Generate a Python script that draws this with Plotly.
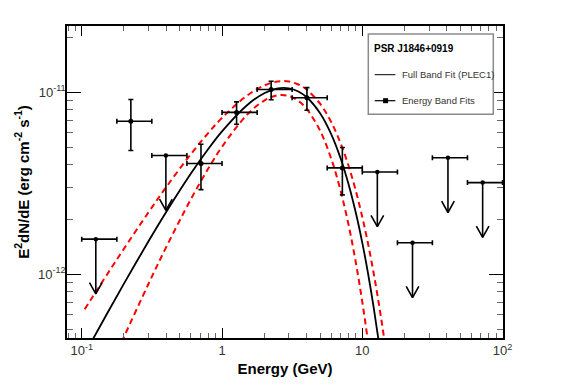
import plotly.graph_objects as go

# ---------------- data ----------------
det_energy = [0.224, 0.708, 1.27, 2.24, 4.03, 7.21]
det_e_lo = [0.178, 0.562, 1.0, 1.78, 3.16, 5.62]
det_e_hi = [0.316, 1.0, 1.78, 3.16, 5.62, 10.0]
det_flux = [6.93e-12, 4.06e-12, 7.75e-12, 1.035e-11, 9.33e-12, 3.84e-12]
det_flux_hi = [9.12e-12, 5.18e-12, 8.85e-12, 1.15e-11, 1.06e-11, 4.97e-12]
det_flux_lo = [4.79e-12, 2.92e-12, 6.67e-12, 9.1e-12, 7.96e-12, 2.73e-12]

ul_energy = [0.126, 0.398, 12.8, 22.8, 40.8, 72.1]
ul_e_lo = [0.1, 0.316, 10.0, 17.8, 31.6, 56.2]
ul_e_hi = [0.178, 0.562, 17.8, 31.6, 56.2, 100.0]
ul_flux = [1.56e-12, 4.49e-12, 3.65e-12, 1.49e-12, 4.37e-12, 3.19e-12]

fit_energy = [0.1, 0.12, 0.15, 0.2, 0.3, 0.4, 0.6, 0.8, 1.0, 1.5, 2.0, 2.5, 3.0,
              3.5, 4.0, 5.0, 6.0, 7.0, 8.0, 9.0, 10.0, 11.0, 12.0, 13.0, 14.0]
fit_flux = [3.40e-13, 4.394e-13, 5.99e-13, 8.88e-13, 1.523e-12, 2.199e-12, 3.578e-12,
            4.896e-12, 6.10e-12, 8.463e-12, 9.88e-12, 1.050e-11, 1.051e-11, 1.010e-11,
            9.417e-12, 7.674e-12, 5.893e-12, 4.342e-12, 3.105e-12, 2.169e-12, 1.489e-12,
            1.007e-12, 6.725e-13, 4.446e-13, 2.915e-13]

up_energy = [0.105, 0.12, 0.15, 0.2, 0.3, 0.4, 0.6, 0.8, 1.0, 1.5, 2.0, 2.5, 3.0,
             3.5, 4.0, 5.0, 6.0, 7.0, 8.0, 9.0, 10.0, 11.0, 12.0, 13.0, 14.0, 15.0]
up_flux = [6.425e-13, 7.548e-13, 9.854e-13, 1.382e-12, 2.197e-12, 3.012e-12, 4.574e-12,
           5.989e-12, 7.229e-12, 9.559e-12, 1.090e-11, 1.146e-11, 1.145e-11, 1.103e-11,
           1.036e-11, 8.652e-12, 6.864e-12, 5.254e-12, 3.921e-12, 2.866e-12, 2.064e-12,
           1.468e-12, 1.033e-12, 7.204e-13, 4.986e-13, 3.431e-13]

low_energy = [0.18, 0.2, 0.3, 0.4, 0.6, 0.8, 1.0, 1.5, 2.0, 2.5, 3.0, 3.5, 4.0,
              5.0, 6.0, 7.0, 8.0, 9.0, 10.0, 11.0, 12.0]
low_flux = [3.784e-13, 4.529e-13, 8.903e-13, 1.410e-12, 2.586e-12, 3.821e-12, 5.016e-12,
            7.489e-12, 9.000e-12, 9.614e-12, 9.528e-12, 8.967e-12, 8.124e-12, 6.152e-12,
            4.323e-12, 2.884e-12, 1.852e-12, 1.156e-12, 7.05e-13, 4.222e-13, 2.490e-13]

x_tickvals = [0.1, 1, 10, 100]
x_ticktext = ["10<sup>-1</sup>", "1", "10", "10<sup>2</sup>"]
x_minor = [0.08, 0.09, 0.2, 0.3, 0.4, 0.5, 0.6, 0.7, 0.8, 0.9, 2, 3, 4, 5, 6, 7, 8, 9,
           20, 30, 40, 50, 60, 70, 80, 90]
y_tickvals = [1e-12, 1e-11]
y_ticktext = ["10<sup>-12</sup>", "10<sup>-11</sup>"]
y_minor = [5e-13, 6e-13, 7e-13, 8e-13, 9e-13, 2e-12, 3e-12, 4e-12, 5e-12, 6e-12,
           7e-12, 8e-12, 9e-12, 2e-11]

# ---------------- style ----------------
FONT = "Liberation Sans, Arial, Helvetica, sans-serif"
ARROW_FACTOR = 0.5          # arrow length (factor in flux)
HEAD_DX = 10 ** 0.045       # arrow head half-width (log factor)
HEAD_DY = 10 ** 0.062       # arrow head height (log factor)

W, H = 567, 384
BODY = 8                    # default page margin of the html body
PL, PT, PW, PH = 67, 26, 436, 312   # plot area on screen
ML, MT = PL - BODY, PT - BODY
MR, MB = W - ML - PW, H - MT - PH


def px(x):
    return (x - PL) / PW


def py(y):
    return (PT + PH - y) / PH


fig = go.Figure()

# model curves
fig.add_trace(go.Scatter(x=low_energy, y=low_flux, mode="lines", line_shape="spline",
                         line=dict(color="#ff0000", width=2, dash="6px,4px"),
                         showlegend=False, hoverinfo="skip"))
fig.add_trace(go.Scatter(x=up_energy, y=up_flux, mode="lines", line_shape="spline",
                         line=dict(color="#ff0000", width=2, dash="6px,4px"),
                         showlegend=False, hoverinfo="skip"))
fig.add_trace(go.Scatter(x=fit_energy, y=fit_flux, mode="lines", line_shape="spline",
                         line=dict(color="black", width=1.8),
                         showlegend=False))

# detected band points
fig.add_trace(go.Scatter(
    x=det_energy, y=det_flux, mode="markers",
    marker=dict(color="black", size=5, symbol="circle"),
    error_x=dict(type="data", symmetric=False,
                 array=[h - e for h, e in zip(det_e_hi, det_energy)],
                 arrayminus=[e - l for l, e in zip(det_e_lo, det_energy)],
                 color="black", thickness=1.6, width=2.5),
    error_y=dict(type="data", symmetric=False,
                 array=[h - f for h, f in zip(det_flux_hi, det_flux)],
                 arrayminus=[f - l for l, f in zip(det_flux_lo, det_flux)],
                 color="black", thickness=1.6, width=2.5),
    showlegend=False))

# upper limits
fig.add_trace(go.Scatter(
    x=ul_energy, y=ul_flux, mode="markers",
    marker=dict(color="black", size=4.5, symbol="circle"),
    error_x=dict(type="data", symmetric=False,
                 array=[h - e for h, e in zip(ul_e_hi, ul_energy)],
                 arrayminus=[e - l for l, e in zip(ul_e_lo, ul_energy)],
                 color="black", thickness=1.6, width=2.5),
    showlegend=False))

ax_, ay_ = [], []
for e, f in zip(ul_energy, ul_flux):
    tip = f * ARROW_FACTOR
    ax_ += [e, e, None, e / HEAD_DX, e, e * HEAD_DX, None]
    ay_ += [f, tip, None, tip * HEAD_DY, tip, tip * HEAD_DY, None]
fig.add_trace(go.Scatter(x=ax_, y=ay_, mode="lines",
                         line=dict(color="black", width=1.6),
                         showlegend=False, hoverinfo="skip"))

# ---------------- legend (drawn) ----------------
shapes = [
    dict(type="rect", xref="paper", yref="paper", x0=px(368.3), x1=px(493.3),
         y0=py(114.3), y1=py(34), line=dict(color="#8a8a8a", width=1.5),
         fillcolor="white", layer="above"),
    dict(type="line", xref="paper", yref="paper", x0=px(374.7), x1=px(395.4),
         y0=py(74.7), y1=py(74.7), line=dict(color="black", width=1), layer="above"),
    dict(type="line", xref="paper", yref="paper", x0=px(374.7), x1=px(395.4),
         y0=py(100.7), y1=py(100.7), line=dict(color="black", width=1.2), layer="above"),
    dict(type="rect", xref="paper", yref="paper", x0=px(383.1), x1=px(388.1),
         y0=py(103.2), y1=py(98.2), line=dict(color="black", width=0),
         fillcolor="black", layer="above"),
]
annotations = [
    dict(text="<b>PSR J1846+0919</b>", x=px(372.0), y=py(49), xref="paper", yref="paper",
         xanchor="left", yanchor="middle", showarrow=False,
         font=dict(family=FONT, size=10, color="black")),
    dict(text="Full Band Fit (PLEC1)", x=px(400), y=py(74.7), xref="paper", yref="paper",
         xanchor="left", yanchor="middle", showarrow=False,
         font=dict(family=FONT, size=9.5, color="#333333")),
    dict(text="Energy Band Fits", x=px(400), y=py(100.7), xref="paper", yref="paper",
         xanchor="left", yanchor="middle", showarrow=False,
         font=dict(family=FONT, size=9.5, color="#333333")),
]

axis_common = dict(showline=True, linecolor="black", linewidth=1.6, mirror="allticks",
                   ticks="inside", tickcolor="black", tickwidth=1.3, showgrid=False,
                   zeroline=False, tickfont=dict(family=FONT, size=13, color="#333333"))

fig.update_layout(
    width=W, height=H,
    margin=dict(l=ML, r=MR, t=MT, b=MB, pad=0),
    paper_bgcolor="white", plot_bgcolor="white",
    font=dict(family=FONT),
    showlegend=False,
    xaxis=dict(type="log", range=[-1.105, 2.003], tickmode="array",
               tickvals=x_tickvals, ticktext=x_ticktext, ticklen=10,
               minor=dict(tickmode="array", tickvals=x_minor, ticks="inside",
                          ticklen=5, tickcolor="#666666", tickwidth=1.3),
               title=dict(text="<b>Energy (GeV)</b>", standoff=6,
                          font=dict(family=FONT, size=15, color="black")),
               **axis_common),
    yaxis=dict(type="log", range=[-12.35, -10.636], tickmode="array",
               tickvals=y_tickvals, ticktext=y_ticktext, ticklen=14,
               ticklabelstandoff=-3,
               minor=dict(tickmode="array", tickvals=y_minor, ticks="inside",
                          ticklen=6, tickcolor="#666666", tickwidth=1.3),
               title=dict(text="<b>E<sup>2</sup>dN/dE (erg cm<sup>-2</sup> s<sup>-1</sup>)</b>",
                          standoff=5, font=dict(family=FONT, size=15, color="black")),
               **axis_common),
    shapes=shapes,
    annotations=annotations,
)

fig.write_html("out.html")
